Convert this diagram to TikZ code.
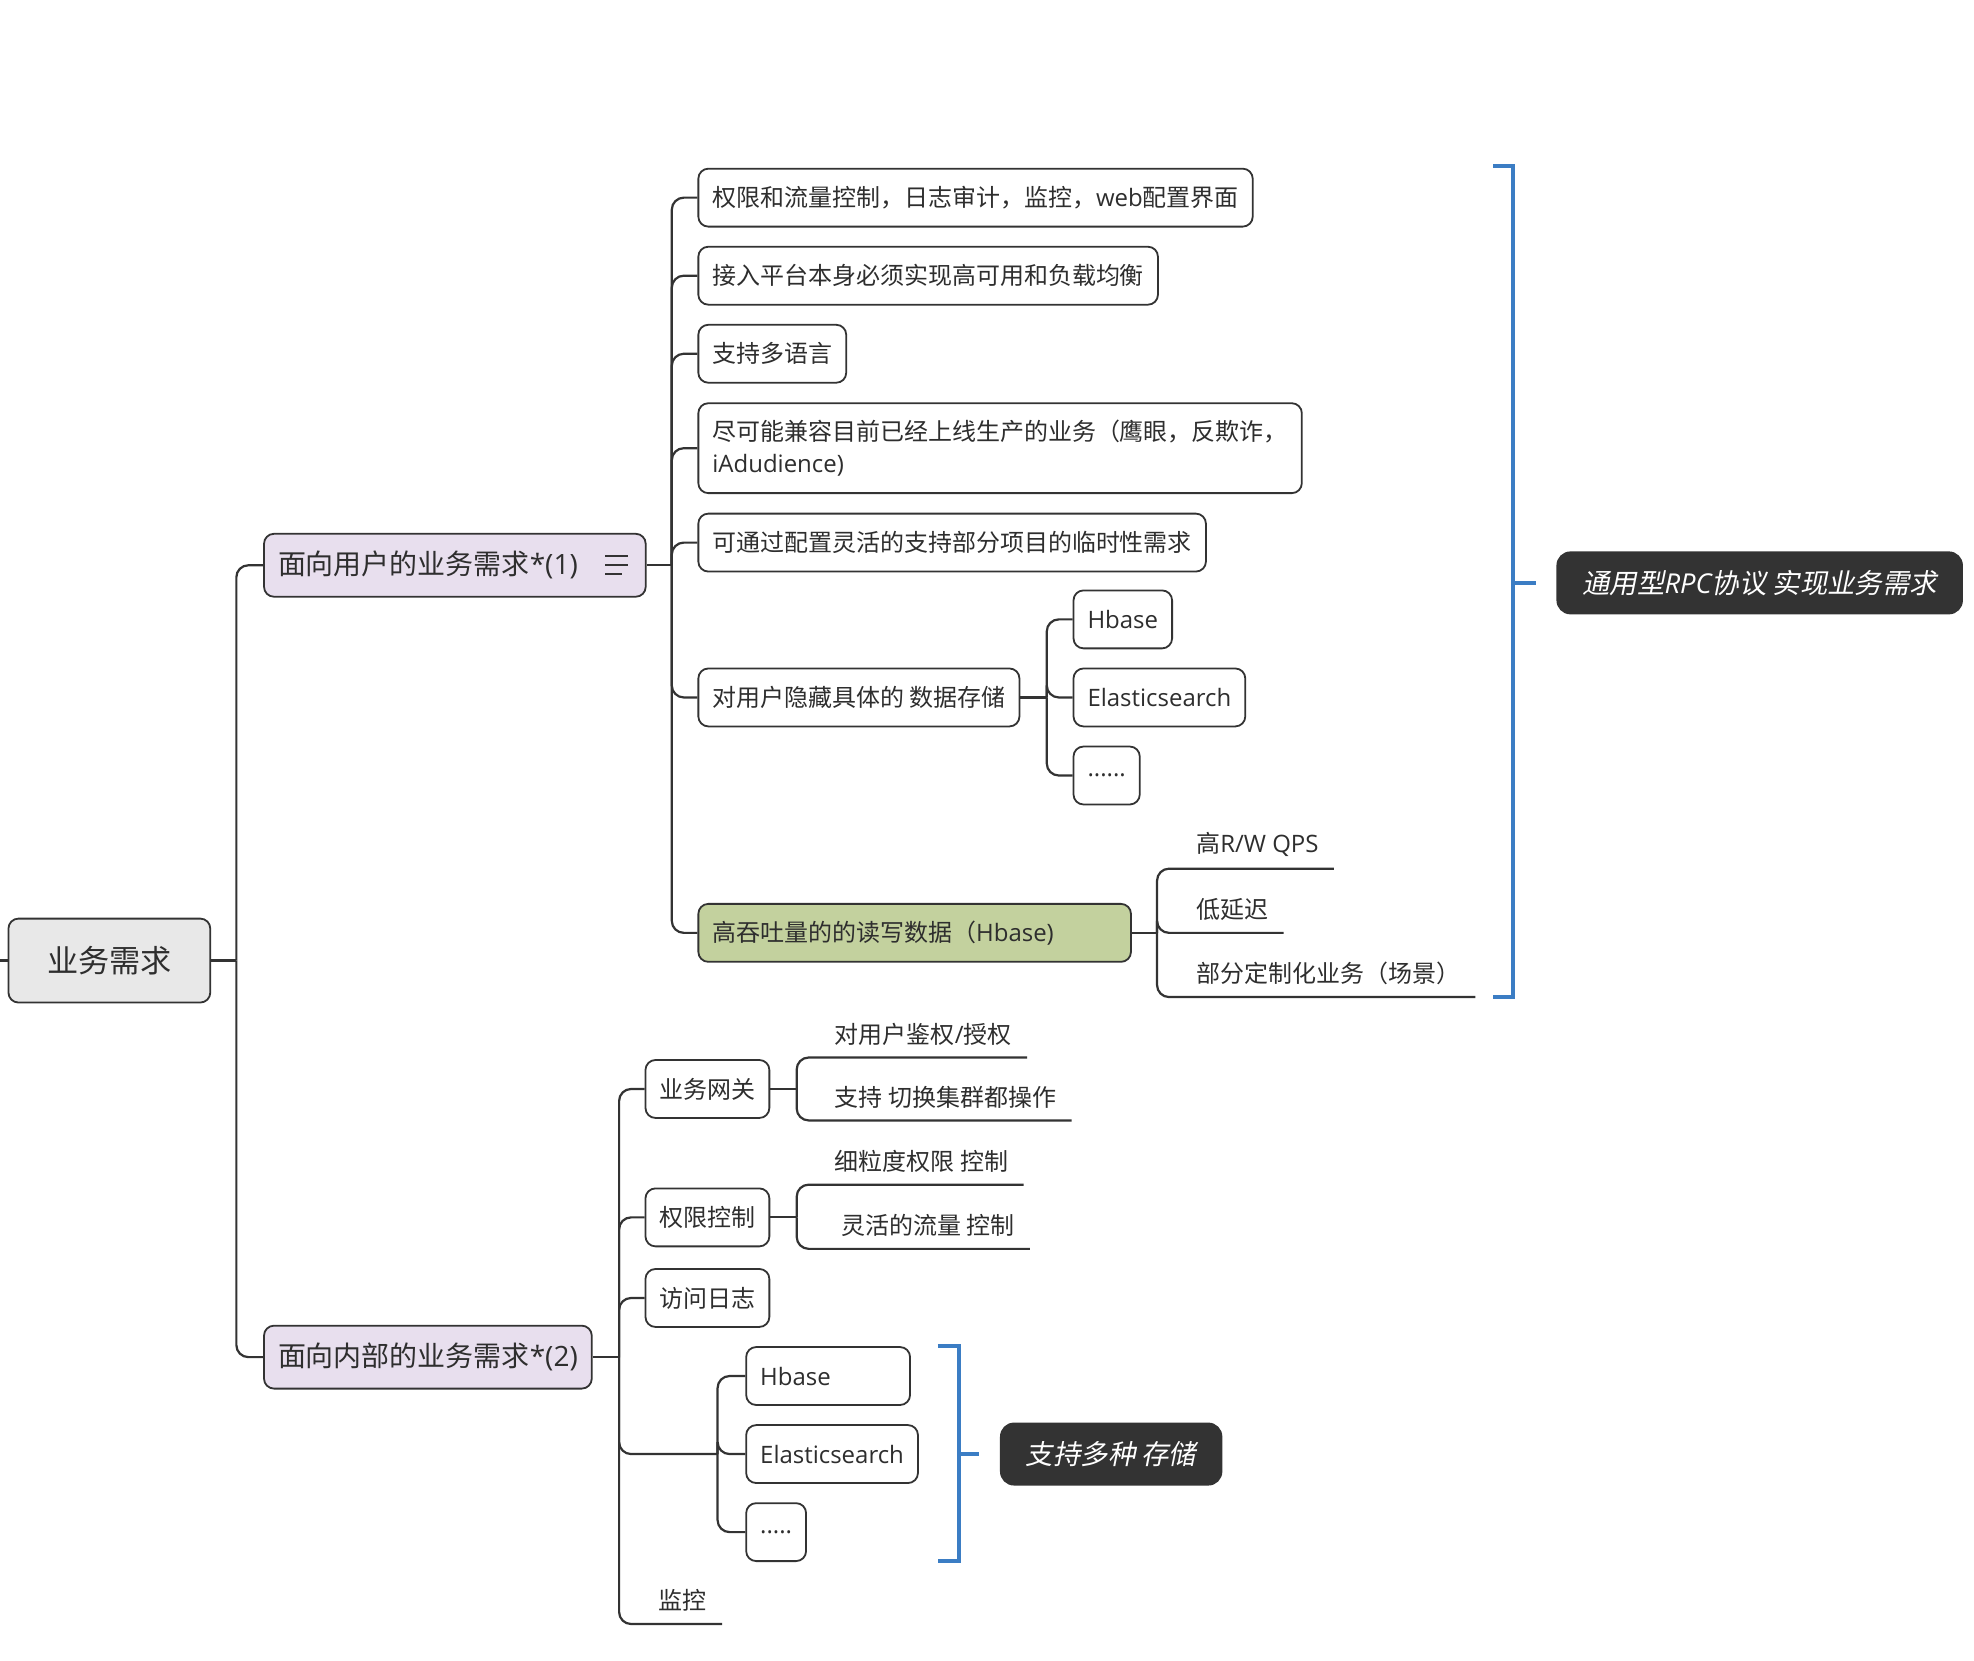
\documentclass[tikz,border=0pt]{standalone}
\usepackage{fontspec}
\setmainfont{Noto Sans CJK SC}
\newfontfamily\latin{Open Sans}
\newfontfamily\slantcjk[FakeSlant=0.2]{Noto Sans CJK SC}
\newcommand\en[1]{{\latin #1}}
\usepackage{xcolor}
\usetikzlibrary{positioning}

\definecolor{linegray}{HTML}{333333}
\definecolor{txtgray}{HTML}{2E2E2E}
\definecolor{rootgray}{HTML}{E8E8E8}
\definecolor{lilac}{HTML}{E8DFEE}
\definecolor{hbgreen}{HTML}{C3D19E}
\definecolor{darkbox}{HTML}{333333}
\definecolor{bracketblue}{HTML}{3B7DC4}

\begin{document}
\begin{tikzpicture}[x=0.63pt, y=-0.63pt,
  topic/.style={draw=linegray, line width=0.9pt, rounded corners=5pt, fill=white, text=txtgray,
    anchor=west, inner xsep=7pt, minimum height=29pt, font=\fontsize{12}{15.75}\selectfont},
  main/.style={topic, fill=lilac, minimum height=31.5pt, font=\fontsize{14}{17}\selectfont},
  root/.style={topic, fill=rootgray, minimum height=42pt, minimum width=101pt, font=\fontsize{15.6}{19}\selectfont},
  leaf/.style={anchor=south west, inner xsep=7.5pt, inner ysep=6pt, text=txtgray, font=\fontsize{12}{15.75}\selectfont},
  link/.style={draw=linegray, line width=1.1pt, rounded corners=6pt},
  bracket/.style={draw=bracketblue, line width=2pt},
  summary/.style={fill=darkbox, text=white, rounded corners=7pt, anchor=west, inner xsep=13pt,
    minimum height=31.5pt, font=\fontsize{13.7}{16}\selectfont\slantcjk}]

  \fill[white] (0,0) rectangle (1568,1319);
  \useasboundingbox (0,0) rectangle (1568,1319);

  % root and the two main branches
  \node[root] (need) at (6,763) {业务需求};
  \node[main] (user) at (209,449) {面向用户的业务需求\en{*(1)}\kern27pt};
  \node[main] (inner) at (209,1078) {面向内部的业务需求\en{*(2)}};
  \foreach \dy/\len in {4.4/11.3, 0/11.3, -4.4/8.5}
    \draw[linegray, line width=1pt] ([xshift=-20.8pt, yshift=\dy pt]user.east) -- ++(\len pt,0);

  % user side
  \node[topic] (perm) at (554,157) {权限和流量控制，日志审计，监控，\en{web}配置界面};
  \node[topic] (ha) at (554,219) {接入平台本身必须实现高可用和负载均衡};
  \node[topic] (lang) at (554,281) {支持多语言};
  \node[topic, align=left, minimum height=45pt] (compat) at (554,356)
    {尽可能兼容目前已经上线生产的业务（鹰眼，反欺诈，\\\en{iAdudience)}};
  \node[topic] (temp) at (554,431) {可通过配置灵活的支持部分项目的临时性需求};
  \node[topic] (hide) at (554,554) {对用户隐藏具体的 数据存储};
  \node[topic, fill=hbgreen, text width=202.5pt, align=left] (rw) at (554,741) {高吞吐量的的读写数据（\en{Hbase)}};

  \node[topic] (hb1) at (852,492) {\en{Hbase}};
  \node[topic] (es1) at (852,554) {\en{Elasticsearch}};
  \node[topic] (etc1) at (852,616) {\en{......}};

  \node[leaf] (qps) at (938,690) {高\en{R/W QPS}};
  \node[leaf] (lat) at (938,741) {低延迟};
  \node[leaf] (cust) at (938,792) {部分定制化业务（场景）};

  % inner side
  \node[topic] (gw) at (512,865) {业务网关};
  \node[topic] (acl) at (512,967) {权限控制};
  \node[topic] (log) at (512,1031) {访问日志};
  \coordinate (blank) at (570,1155);
  \node[topic, text width=68pt] (hb2) at (592,1093) {\en{Hbase}};
  \node[topic] (es2) at (592,1155) {\en{Elasticsearch}};
  \node[topic] (etc2) at (592,1217) {\en{.....}};
  \node[leaf] (mon) at (511,1290) {监控};

  \node[leaf] (auth) at (651,840) {对用户鉴权\en{/}授权};
  \node[leaf] (swc) at (651,890) {支持 切换集群都操作};
  \node[leaf] (fine) at (651,941) {细粒度权限 控制};
  \node[leaf] (flow) at (656,992) {灵活的流量 控制};

  % summaries
  \node[summary] (rpc) at (1236,463) {通用型{\latin\itshape RPC}协议 实现业务需求};
  \node[summary] (multi) at (794,1155) {支持多种 存储};

  % connectors
  \draw[link] (need.west) -- ++(-8,0);
  \draw[link] (need.east) -- ++(20,0) coordinate (t0);
  \foreach \n in {user, inner} \draw[link] (t0) |- (\n.west);
  \draw[link] (user.east) -- ++(20,0) coordinate (t1);
  \foreach \n in {perm, ha, lang, compat, temp, hide, rw} \draw[link] (t1) |- (\n.west);
  \draw[link] (hide.east) -- ++(21,0) coordinate (t2);
  \foreach \n in {hb1, es1, etc1} \draw[link] (t2) |- (\n.west);
  \draw[link] (rw.east) -- ++(20,0) coordinate (t3);
  \foreach \n in {qps, lat, cust} \draw[link] (t3) |- (\n.south east);

  \draw[link] (inner.east) -- ++(21,0) coordinate (t4);
  \foreach \n in {gw, acl, log} \draw[link] (t4) |- (\n.west);
  \draw[link] (t4) |- (blank);
  \draw[link] (t4) |- (mon.south east);
  \foreach \n in {hb2, es2, etc2} \draw[link] (blank) |- (\n.west);
  \draw[link] (gw.east) -- ++(21,0) coordinate (t5);
  \foreach \n in {auth, swc} \draw[link] (t5) |- (\n.south east);
  \draw[link] (acl.east) -- ++(21,0) coordinate (t6);
  \foreach \n in {fine, flow} \draw[link] (t6) |- (\n.south east);

  % brackets
  \coordinate (b1t) at (1186,132);
  \coordinate (b1b) at (1186,792);
  \coordinate (b1m) at (1202,463);
  \draw[bracket] (b1t) -- ++(16,0) |- (b1b);
  \draw[bracket] (b1m) -- ++(18,0);
  \coordinate (b2t) at (745,1069);
  \coordinate (b2b) at (745,1240);
  \coordinate (b2m) at (762,1155);
  \draw[bracket] (b2t) -- ++(17,0) |- (b2b);
  \draw[bracket] (b2m) -- ++(16,0);
\end{tikzpicture}
\end{document}
